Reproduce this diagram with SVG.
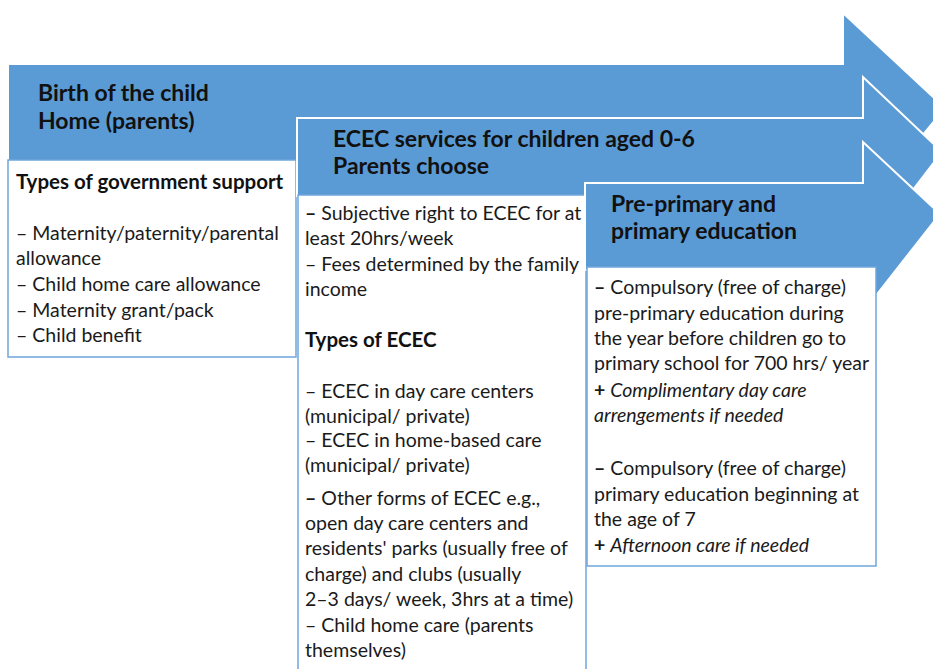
<svg xmlns="http://www.w3.org/2000/svg" width="933" height="669" viewBox="0 0 933 669">
  <style>
    .arrow { fill: #5B9BD5; stroke: #FFFFFF; stroke-width: 2; stroke-linejoin: miter; }
    .box { fill: #FFFFFF; stroke: #6FA6DA; stroke-width: 1.5; }
    .title { font-family: Lato, "Liberation Sans", sans-serif; font-weight: bold; font-size: 23px; fill: #111111; }
    .body { font-family: Lato, "Liberation Sans", sans-serif; font-size: 19.5px; fill: #1a1a1a; }
    .hd { font-family: Lato, "Liberation Sans", sans-serif; font-weight: bold; font-size: 20.5px; fill: #111111; }
    .b { font-weight: bold; }
    .i { font-style: italic; }
  </style>
  <rect width="933" height="669" fill="#FFFFFF"/>

  <g id="stage1">
    <polygon class="arrow" points="8,64 843,64 843,13 945,108 843,232 843,161 8,161"/>
    <rect class="box" x="8" y="160" width="288" height="197"/>
    <text class="title" x="38" y="101">Birth of the child</text>
    <text class="title" x="38" y="129">Home (parents)</text>
    <text class="hd" x="16" y="189">Types of government support</text>
    <text class="body" x="16" y="240">– Maternity/paternity/parental</text>
    <text class="body" x="16" y="265">allowance</text>
    <text class="body" x="16" y="291">– Child home care allowance</text>
    <text class="body" x="16" y="317">– Maternity grant/pack</text>
    <text class="body" x="16" y="342">– Child benefit</text>
  </g>

  <g id="stage2">
    <polygon class="arrow" points="297,118 863,118 863,77 942,152 863,255 863,196 297,196"/>
    <rect class="box" x="298" y="195" width="288" height="490"/>
    <text class="title" x="333" y="147">ECEC services for children aged 0-6</text>
    <text class="title" x="333" y="174">Parents choose</text>
    <text class="body" x="305" y="220"><tspan class="b">–</tspan> Subjective right to ECEC for at</text>
    <text class="body" x="305" y="245">least 20hrs/week</text>
    <text class="body" x="305" y="271">– Fees determined by the family</text>
    <text class="body" x="305" y="296">income</text>
    <text class="hd" x="305" y="347">Types of ECEC</text>
    <text class="body" x="305" y="398">– ECEC in day care centers</text>
    <text class="body" x="305" y="423">(municipal/ private)</text>
    <text class="body" x="305" y="447">– ECEC in home-based care</text>
    <text class="body" x="305" y="472">(municipal/ private)</text>
    <text class="body" x="305" y="505"><tspan class="b">–</tspan> Other forms of ECEC e.g.,</text>
    <text class="body" x="305" y="530">open day care centers and</text>
    <text class="body" x="305" y="555">residents' parks (usually free of</text>
    <text class="body" x="305" y="581">charge) and clubs (usually</text>
    <text class="body" x="305" y="606">2–3 days/ week, 3hrs at a time)</text>
    <text class="body" x="305" y="632">– Child home care (parents</text>
    <text class="body" x="305" y="657">themselves)</text>
  </g>

  <g id="stage3">
    <polygon class="arrow" points="585,183 863,183 863,142 940,214 863,312 863,270 585,270"/>
    <rect class="box" x="587" y="267" width="289" height="299"/>
    <text class="title" x="611" y="212">Pre-primary and</text>
    <text class="title" x="611" y="239">primary education</text>
    <text class="body" x="594" y="294"><tspan class="b">–</tspan> Compulsory (free of charge)</text>
    <text class="body" x="594" y="320">pre-primary education during</text>
    <text class="body" x="594" y="345">the year before children go to</text>
    <text class="body" x="594" y="370">primary school for 700 hrs/ year</text>
    <text class="body" x="594" y="397"><tspan class="b">+</tspan> <tspan class="i">Complimentary day care</tspan></text>
    <text class="body i" x="594" y="422">arrengements if needed</text>
    <text class="body" x="594" y="475"><tspan class="b">–</tspan> Compulsory (free of charge)</text>
    <text class="body" x="594" y="501">primary education beginning at</text>
    <text class="body" x="594" y="526">the age of 7</text>
    <text class="body" x="594" y="552"><tspan class="b">+</tspan> <tspan class="i">Afternoon care if needed</tspan></text>
  </g>

  <g id="connectors"></g>
</svg>
